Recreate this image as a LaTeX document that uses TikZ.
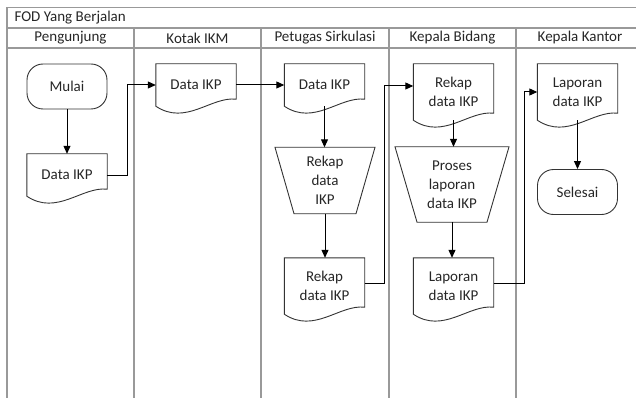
\documentclass[tikz,border=0pt]{standalone}
\usepackage{fontspec}
\setmainfont{Carlito}
\usetikzlibrary{arrows.meta,calc}

\tikzset{
  lane/.style={draw=black!40, line width=1.3pt},
  outline/.style={draw=black!80, line width=0.9pt},
  docbox/.style={minimum width=80pt, inner sep=0pt, align=center},
  trapbox/.style={minimum width=60pt, inner sep=0pt, align=center},
  termbox/.style={outline, rounded corners=16pt, minimum width=80pt, minimum height=45pt, inner sep=0pt},
  flow/.style={-{Triangle[length=8pt,width=7pt]}, draw=black, line width=1pt},
}

\begin{document}
\begin{tikzpicture}[x=1pt, y=-1pt, font=\fontsize{15}{19}\selectfont, text=black!85]
    \useasboundingbox (0,0) rectangle (636,398);

    % kerangka swimlane
    \draw[lane] (7,398) -- (7,7.5) -- (636,7.5);
    \draw[lane] (7,28) -- (636,28);
    \draw[lane] (7,48) -- (636,48);
    \foreach \x in {134, 261, 389, 516}
    \draw[lane] (\x,28) -- (\x,398);

    \node[anchor=west] (judul) at (11,18) {FOD Yang Berjalan};
    \foreach \n/\x/\t in {hPengunjung/70.5/Pengunjung, hKotak/197.5/Kotak IKM,
        hPetugas/325/Petugas Sirkulasi, hBidang/452.5/Kepala Bidang, hKantor/580/Kepala Kantor}
    \node (\n) at (\x,38) {\t};

    % terminal
    \node[termbox] (mulai) at (67,86.5) {Mulai};
    \node[termbox] (selesai) at (577.5,192) {Selesai};

    % dokumen
    \node[docbox, minimum height=42pt] (dPeng) at (67,175) {Data IKP};
    \node[docbox, minimum height=42pt] (dKotak) at (196,85) {Data IKP};
    \node[docbox, minimum height=42pt] (dPetugas) at (324.5,85) {Data IKP};
    \node[docbox, minimum height=56pt] (dRekap) at (324.5,286) {Rekap\\data IKP};
    \node[docbox, minimum height=56pt] (dBidang) at (453.5,92) {Rekap\\data IKP};
    \node[docbox, minimum height=56pt] (dLaporan) at (453.5,286) {Laporan\\data IKP};
    \node[docbox, minimum height=56pt] (dKantor) at (577.5,92) {Laporan\\data IKP};

    \foreach \d in {dPeng, dKotak, dPetugas, dRekap, dBidang, dLaporan, dKantor}
    \draw[outline] (\d.north west) -- (\d.south west)
        .. controls ($(\d.south west)+(30,20)$) and ($(\d.south east)+(-25,-10)$) .. ($(\d.south east)+(0,-7)$)
        -- (\d.north east) -- cycle;

    % proses manual
    \node[trapbox, minimum height=66pt] (tRekap) at (325,180.5) {Rekap\\data\\IKP};
    \node[trapbox, minimum height=75pt] (tProses) at (452,184.5) {Proses\\laporan\\data IKP};

    \foreach \t/\a/\b in {tRekap/50/31, tProses/57/35}
    \draw[outline] ($(\t.north)+(-\a,0)$) -- ($(\t.north)+(\a,0)$)
        -- ($(\t.south)+(\b,0)$) -- ($(\t.south)+(-\b,0)$) -- cycle;

    % alur
    \draw[flow] (mulai) -- (dPeng);
    \draw[flow] (dPeng.east) -- ++(20,0) |- (dKotak.west);
    \draw[flow] (dKotak) -- (dPetugas);
    \draw[flow] (dPetugas.south) -- (dPetugas.south |- tRekap.north);
    \draw[flow] (tRekap.south) -- (tRekap.south |- dRekap.north);
    \draw[flow] ([yshift=3pt]dRekap.east) -- ++(20,0) |- ([yshift=6pt]dBidang.west);
    \draw[flow] (dBidang.south) -- (dBidang.south |- tProses.north);
    \draw[flow] (tProses.south) -- (tProses.south |- dLaporan.north);
    \draw[flow] ([yshift=3pt]dLaporan.east) -- ++(31,0) |- (dKantor.west);
    \draw[flow] (dKantor) -- (selesai);
\end{tikzpicture}
\end{document}
